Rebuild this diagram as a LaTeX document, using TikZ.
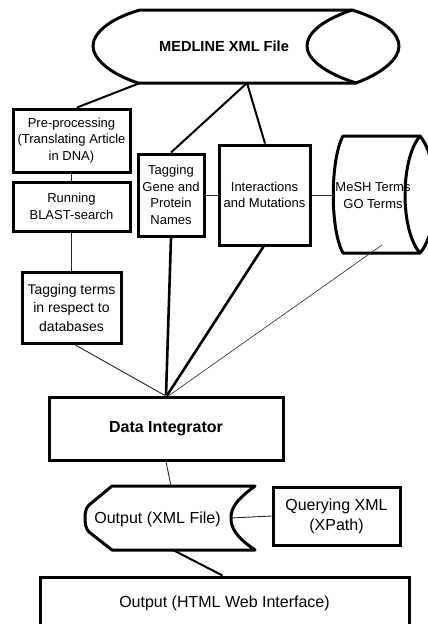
\documentclass[tikz,border=0pt]{standalone}
\usepackage{fontspec}
\setmainfont{Liberation Sans}
\usetikzlibrary{calc}
\begin{document}
\begin{tikzpicture}[x=1pt,y=-1pt,
  box/.style={draw, line width=3pt, rectangle, inner sep=0pt, align=center,
    font=\fontsize{13}{16.7}\selectfont},
  bigbox/.style={box, font=\fontsize{16}{20}\selectfont},
  outline/.style={line width=3pt, line join=round},
  lbl/.style={inner sep=0pt, align=center},
  conhair/.style={line width=0.6pt, black!85},
  conthin/.style={line width=0.9pt, black!85},
  conmid/.style={line width=2pt},
  conthick/.style={line width=2.6pt},
]
\useasboundingbox (0,0) rectangle (428,624);

% MEDLINE XML File (horizontal storage shape)
\draw[outline] (140,10) -- (352,10)
  .. controls (385,20) and (399,34) .. (399,46)
  .. controls (399,58) and (385,72) .. (356,83)
  -- (138,83)
  .. controls (108,73) and (93,58) .. (93,46)
  .. controls (93,34) and (108,19) .. (140,10) -- cycle;
\draw[outline] (352,10) .. controls (320,21) and (307,34) .. (307,46)
  .. controls (307,58) and (322,72) .. (356,83);
\node[lbl, font=\fontsize{14.6}{17}\selectfont\bfseries] (medline) at (224,46) {MEDLINE XML File};
\coordinate (mdl) at (140,83);
\coordinate (mdm) at (247,83);

% left column
\node[box, minimum width=117pt, minimum height=63pt] (pre) at (71.5,140.5)
  {Pre-processing\\(Translating Article\\in DNA)};
\node[box, minimum width=117pt, minimum height=49pt] (run) at (71.5,206.5)
  {Running\\BLAST-search};
\node[box, minimum width=99pt, minimum height=71pt,
  font=\fontsize{14}{18.5}\selectfont] (terms) at (71.5,307.5)
  {Tagging terms\\in respect to\\databases};

% middle boxes
\node[box, minimum width=66pt, minimum height=82pt] (taggene) at (171,195)
  {Tagging\\Gene and\\Protein\\Names};
\node[box, minimum width=91pt, minimum height=100pt] (inter) at (264.5,195)
  {Interactions\\and Mutations};

% MeSH / GO terms (vertical storage shape)
\node[lbl, font=\fontsize{13}{16.7}\selectfont] (mesh) at (373,195.5) {MeSH Terms\\GO Terms};
\draw[outline] (343,136) -- (420,136)
  .. controls (440,160) and (440,230) .. (420,253)
  -- (343,253)
  .. controls (330,230) and (330,160) .. (343,136) -- cycle;
\draw[outline] (420,136) .. controls (400,160) and (400,230) .. (420,253);
\coordinate (meshw) at (333,195);
\coordinate (meshin) at (382,245);

% Data Integrator
\node[box, minimum width=234pt, minimum height=63pt,
  font=\fontsize{16}{20}\selectfont\bfseries] (di) at (166,428.5) {Data Integrator};

% Output (XML File)
\draw[outline] (112,486) -- (255,486)
  .. controls (236,500) and (231,508) .. (231,518)
  .. controls (231,528) and (236,537) .. (255,550)
  -- (112,550) -- (89,532)
  .. controls (86,529) and (85,524) .. (85,518)
  .. controls (85,512) and (86,508) .. (89,505) -- cycle;
\node[lbl, font=\fontsize{16}{20}\selectfont] (xml) at (157.5,519) {Output (XML File)};
\coordinate (xmltop) at (171,486);
\coordinate (xmlright) at (231,518);
\coordinate (xmlbot) at (173,550);

\node[bigbox, minimum width=127pt, minimum height=58pt] (query) at (336.5,516)
  {Querying XML\\(XPath)};
\node[bigbox, minimum width=369pt, minimum height=52pt] (html) at (224.5,603)
  {Output (HTML Web Interface)};

% connectors
\draw[conmid] (mdl) -- ($(pre.north)+(5.5,0)$);
\draw[conmid] (mdm) -- (taggene.north);
\draw[conmid] (mdm) -- ($(inter.north)+(0.5,0)$);
\draw[conthin] (pre.south) -- (run.north);
\draw[conthin] (run.south) -- (terms.north);
\draw[conthin] (taggene.east) -- (inter.west);
\draw[conthin] (inter.east) -- (meshw);
\draw[conthin] ($(terms.south)+(3,0)$) -- ($(di.north)+(-1,0)$);
\draw[conthick] (taggene.south) -- (di.north);
\draw[conthick] ($(inter.south)+(-1,0)$) -- ($(di.north)+(1,0)$);
\draw[conhair] (meshin) -- ($(di.north)+(3,0)$);
\draw[conthin] (di.south) -- (xmltop);
\draw[conthin] (xmlright) -- (query.west);
\draw[conmid] (xmlbot) -- ($(html.north)+(-2,0)$);
\end{tikzpicture}
\end{document}
